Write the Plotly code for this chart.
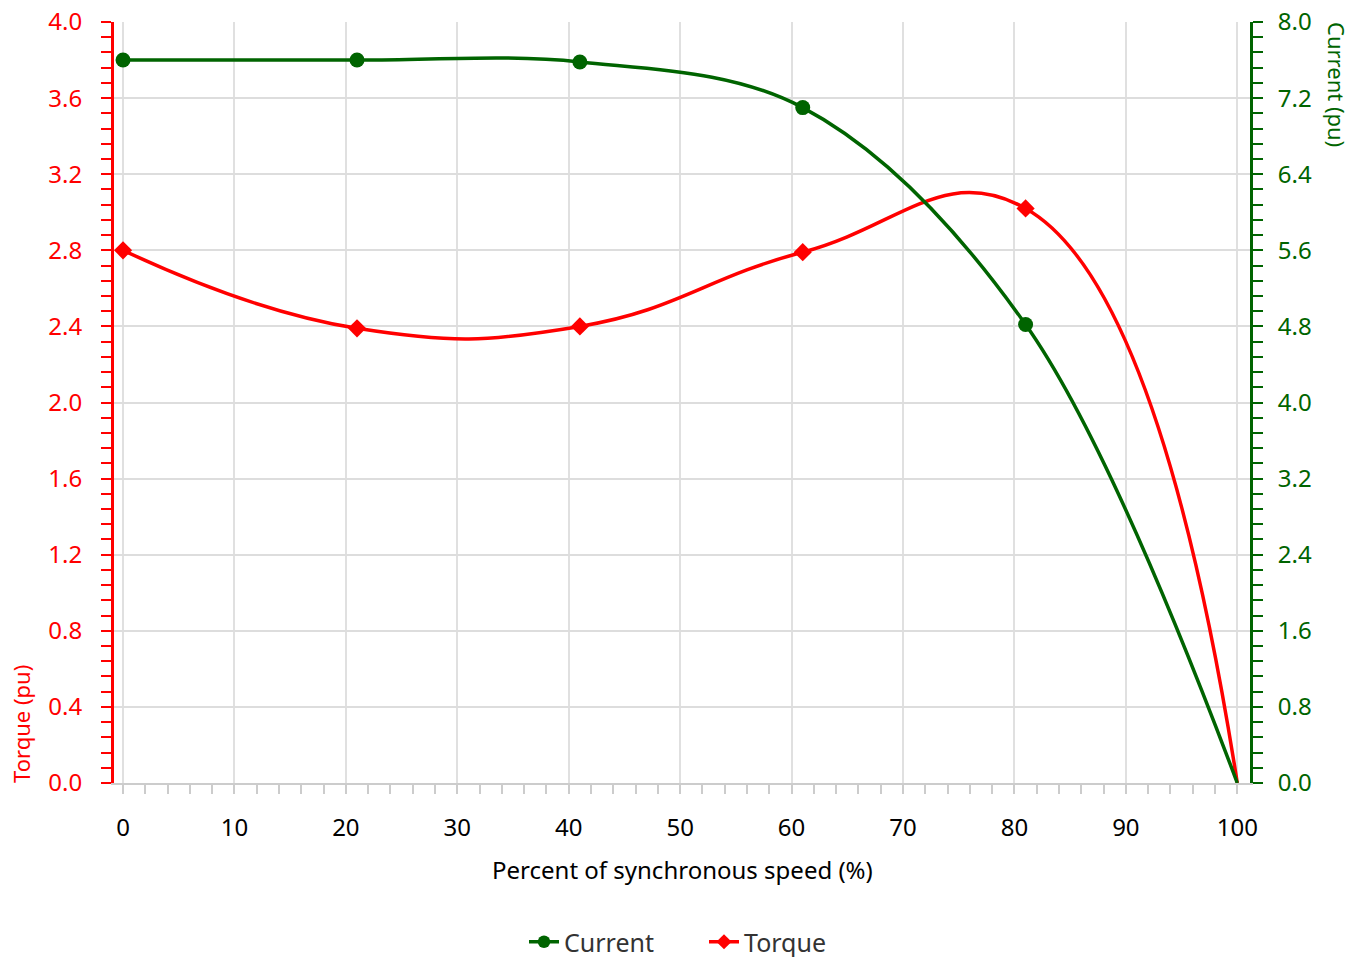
import plotly.graph_objects as go

speed = [0, 21, 41, 61, 81, 100]
current = [7.6, 7.6, 7.58, 7.1, 4.82, 0.0]
torque = [2.8, 2.39, 2.4, 2.79, 3.02, 0.0]
marker_show = [1, 1, 1, 1, 1, 0]

GREEN = "#006400"
RED = "#ff0000"
FONT = "Noto Sans"

W, H = 1352, 957
L = 114
T = 22
R = W - 1250
B = H - 783
PW = W - L - R
PH = H - T - B


def px(xp):
    return (xp - L) / PW


def py(yp):
    return (H - B - yp) / PH


fig = go.Figure()
fig.add_trace(go.Scatter(
    x=speed, y=current, name="Current", yaxis="y2",
    mode="lines+markers", line=dict(color=GREEN, width=3.5, shape="spline", smoothing=1.0),
    marker=dict(symbol="circle", size=[15 * m for m in marker_show], color=GREEN, opacity=1,
                line=dict(width=0)),
))
fig.add_trace(go.Scatter(
    x=speed, y=torque, name="Torque", yaxis="y",
    mode="lines+markers", line=dict(color=RED, width=3.5, shape="spline", smoothing=1.3),
    marker=dict(symbol="diamond", size=[14 * m for m in marker_show], color=RED, opacity=1,
                line=dict(width=0)),
))

fig.update_layout(
    width=W, height=H,
    margin=dict(l=L, r=R, t=T, b=B, autoexpand=False),
    paper_bgcolor="white", plot_bgcolor="white",
    font=dict(family=FONT, size=24, color="#000"),
    showlegend=True,
    legend=dict(orientation="h", x=0.5 + 22 / PW, xanchor="center", y=py(942), yanchor="middle",
                font=dict(size=25, color="#333"), itemwidth=30, entrywidth=135),
    xaxis=dict(
        range=[-0.81, 101.14], dtick=10, tick0=0, showgrid=True, gridcolor="#e0e0e0", gridwidth=1.5,
        ticks="outside", ticklen=9, tickcolor="#cccccc", tickwidth=1.5, automargin=False,
        showline=True, linecolor="#cccccc", linewidth=2, zeroline=False, ticklabeloverflow="allow",
        tickfont=dict(size=24, color="#000"), ticklabelstandoff=13,
        minor=dict(dtick=2, ticks="outside", ticklen=9, tickcolor="#cccccc", tickwidth=1.5, showgrid=False),
    ),
    yaxis=dict(
        range=[0, 4], dtick=0.4, tick0=0, tickformat=".1f", showgrid=True, gridcolor="#dddddd", gridwidth=1.5,
        ticks="outside", ticklen=10, tickcolor=RED, tickwidth=2, automargin=False,
        showline=True, linecolor=RED, linewidth=3, zeroline=False, ticklabeloverflow="allow",
        tickfont=dict(size=24, color=RED), ticklabelstandoff=14,
        minor=dict(dtick=0.08, ticks="outside", ticklen=10, tickcolor=RED, tickwidth=2, showgrid=False),
    ),
    yaxis2=dict(
        range=[0, 8], dtick=0.8, tick0=0, tickformat=".1f", showgrid=False, overlaying="y", side="right",
        ticks="outside", ticklen=10, tickcolor=GREEN, tickwidth=2, automargin=False,
        showline=True, linecolor=GREEN, linewidth=3, zeroline=False, ticklabeloverflow="allow",
        tickfont=dict(size=24, color=GREEN), ticklabelstandoff=10,
        minor=dict(dtick=0.16, ticks="outside", ticklen=10, tickcolor=GREEN, tickwidth=2, showgrid=False),
    ),
    annotations=[
        dict(text="Percent of synchronous speed (%)", xref="paper", yref="paper", x=0.5, y=py(869),
             xanchor="center", yanchor="middle", showarrow=False, font=dict(size=24, color="#000")),
        dict(text="Torque (pu)", xref="paper", yref="paper", x=px(21), y=py(724),
             xanchor="center", yanchor="middle", textangle=-90, showarrow=False, font=dict(size=22, color=RED)),
        dict(text="Current (pu)", xref="paper", yref="paper", x=px(1337), y=py(84),
             xanchor="center", yanchor="middle", textangle=90, showarrow=False, font=dict(size=22, color=GREEN)),
    ],
)

fig.write_html("out.html", config={"displayModeBar": False},
               post_script="document.body.style.margin='0';document.body.style.overflow='hidden';")
